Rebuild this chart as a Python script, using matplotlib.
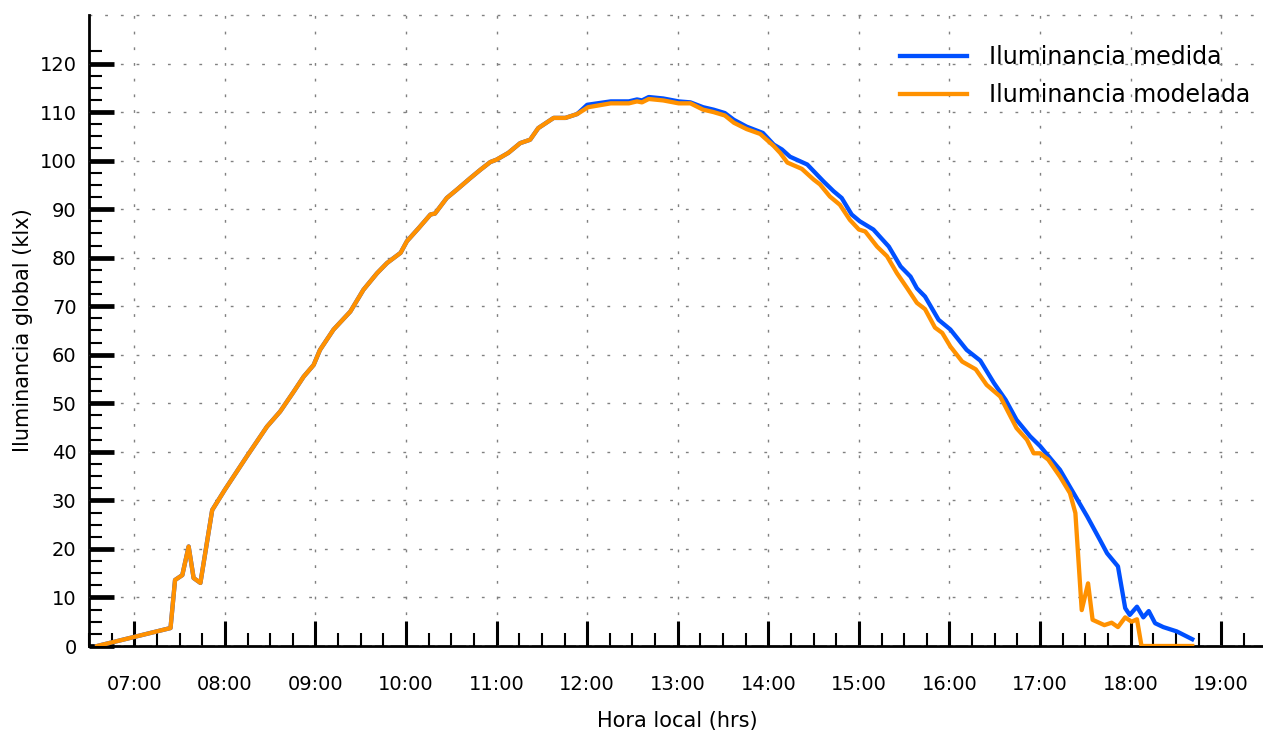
import matplotlib
matplotlib.use('Agg')
from matplotlib import pyplot as plt
from matplotlib.ticker import MultipleLocator, FixedLocator

plt.rcParams['font.family'] = ['DejaVu Sans']

# hora local en horas decimales, iluminancia en klx
# tramo de la mañana: ambas curvas coinciden
rise_t = [6.59, 7.40, 7.45, 7.53, 7.60, 7.655, 7.73, 7.86, 8.00, 8.24, 8.465, 8.61,
          8.76, 8.87, 8.98, 9.05, 9.20, 9.385, 9.53, 9.68, 9.79, 9.94, 10.01, 10.14,
          10.27, 10.32, 10.45, 10.56, 10.71, 10.82, 10.93, 11.00, 11.13, 11.26, 11.37,
          11.46, 11.63, 11.76, 11.89]
rise_v = [0.0, 3.7, 13.6, 14.6, 20.5, 14.0, 13.0, 28.0, 32.2, 39.0, 45.2, 48.3,
          52.4, 55.5, 57.9, 61.0, 65.2, 68.9, 73.4, 76.8, 78.9, 81.0, 83.4, 86.1,
          88.9, 89.1, 92.3, 94.0, 96.4, 98.1, 99.7, 100.2, 101.6, 103.6, 104.3,
          106.7, 108.8, 108.8, 109.6]

# tarde, iluminancia medida
med_t = [12.00, 12.26, 12.46, 12.55, 12.605, 12.68, 12.84, 13.01, 13.14, 13.28, 13.395,
         13.52, 13.62, 13.76, 13.94, 14.06, 14.15, 14.24, 14.43, 14.61, 14.72, 14.81,
         14.92, 15.01, 15.16, 15.33, 15.46, 15.57, 15.64, 15.73, 15.88, 16.01, 16.19,
         16.34, 16.49, 16.62, 16.74, 16.89, 17.00, 17.08, 17.22, 17.37, 17.52, 17.66,
         17.74, 17.86, 17.94, 17.99, 18.07, 18.14, 18.20, 18.27, 18.36, 18.51, 18.68]
med_v = [111.5, 112.2, 112.2, 112.6, 112.4, 113.1, 112.8, 112.2, 112.0, 111.0, 110.5,
         109.8, 108.4, 107.0, 105.7, 103.3, 102.3, 100.8, 99.2, 95.7, 93.7, 92.3,
         88.9, 87.5, 85.8, 82.3, 78.2, 76.1, 73.7, 72.0, 67.2, 65.2, 61.0,
         58.8, 54.2, 50.7, 46.6, 43.2, 41.2, 39.4, 36.3, 31.5, 26.7, 21.9,
         19.1, 16.4, 7.8, 6.4, 8.1, 5.9, 7.2, 4.7, 3.9, 3.0, 1.4]

# tarde, iluminancia modelada
mod_t = [12.01, 12.26, 12.46, 12.55, 12.605, 12.68, 12.84, 13.01, 13.14, 13.28, 13.395,
         13.52, 13.62, 13.76, 13.91, 14.06, 14.13, 14.21, 14.37, 14.50, 14.57, 14.68,
         14.79, 14.90, 15.00, 15.07, 15.20, 15.31, 15.42, 15.53, 15.64, 15.73, 15.84,
         15.92, 16.01, 16.14, 16.29, 16.41, 16.56, 16.74, 16.855, 16.93, 17.00, 17.09,
         17.22, 17.33, 17.39, 17.46, 17.53, 17.58, 17.71, 17.79, 17.86, 17.94, 18.01,
         18.07, 18.12, 18.68]
mod_v = [111.0, 111.8, 111.8, 112.2, 112.0, 112.7, 112.4, 111.8, 111.8, 110.5, 110.0,
         109.3, 107.8, 106.5, 105.5, 103.0, 101.6, 99.6, 98.3, 96.1, 95.1, 92.6,
         90.9, 87.8, 85.8, 85.4, 82.3, 80.3, 76.8, 73.8, 70.7, 69.4, 65.6,
         64.5, 61.7, 58.6, 57.0, 53.8, 51.4, 44.9, 42.5, 39.7, 39.7, 38.4,
         34.9, 31.5, 27.4, 7.4, 12.9, 5.4, 4.3, 4.8, 3.9, 5.9, 5.0,
         5.5, 0.0, 0.0]

hours = list(range(7, 20))
hour_labels = ['{:02d}:00'.format(h) for h in hours]
y_major = list(range(0, 130, 10))


def main():
    fig = plt.figure(figsize=(12.63, 7.36), dpi=100)
    ax = fig.add_axes([89 / 1263, 1 - 646 / 736, 1177.5 / 1263, 631 / 736])

    ax.plot(rise_t + med_t, rise_v + med_v, color='#0050ff', lw=3.1,
            label='Iluminancia medida', solid_joinstyle='round', zorder=3)
    ax.plot(rise_t + mod_t, rise_v + mod_v, color='#ff9100', lw=3.1,
            label='Iluminancia modelada', solid_joinstyle='round', zorder=4)

    ax.set_xlim(6.5, 19.5)
    ax.set_ylim(0, 130)

    ax.xaxis.set_major_locator(FixedLocator(hours))
    ax.set_xticklabels(hour_labels)
    ax.xaxis.set_minor_locator(MultipleLocator(0.25))
    ax.yaxis.set_major_locator(FixedLocator(y_major))
    ax.yaxis.set_minor_locator(FixedLocator([v / 2 for v in range(0, 246, 5)]))

    ax.tick_params(axis='x', which='major', direction='in', length=18, width=2.2,
                   pad=21, labelsize=14, colors='black')
    ax.tick_params(axis='x', which='minor', direction='in', length=9.5, width=1.5)
    ax.tick_params(axis='y', which='major', direction='in', length=18, width=3.4,
                   pad=9, labelsize=14)
    ax.tick_params(axis='y', which='minor', direction='in', length=9.5, width=1.5)

    for s in ['top', 'right']:
        ax.spines[s].set_visible(False)
    for s in ['left', 'bottom']:
        ax.spines[s].set_linewidth(2)

    grid_kw = dict(color='#808080', lw=1, dashes=(2, 9.3))
    ax.grid(True, which='major', **grid_kw)
    ax.axhline(130, clip_on=False, **grid_kw)
    ax.set_axisbelow(False)

    ax.set_xlabel('Hora local (hrs)', fontsize=15, labelpad=12)
    ax.set_ylabel('Iluminancia global (klx)', fontsize=15, labelpad=5)

    ax.legend(loc='upper right', bbox_to_anchor=(1262 / 1263, 1 - 33 / 736),
              bbox_transform=fig.transFigure, frameon=False, fontsize=17,
              handlelength=2.8, handletextpad=0.95, labelspacing=0.62, borderpad=0)

    fig.savefig('out.png', dpi=100)


if __name__ == "__main__":
    main()
